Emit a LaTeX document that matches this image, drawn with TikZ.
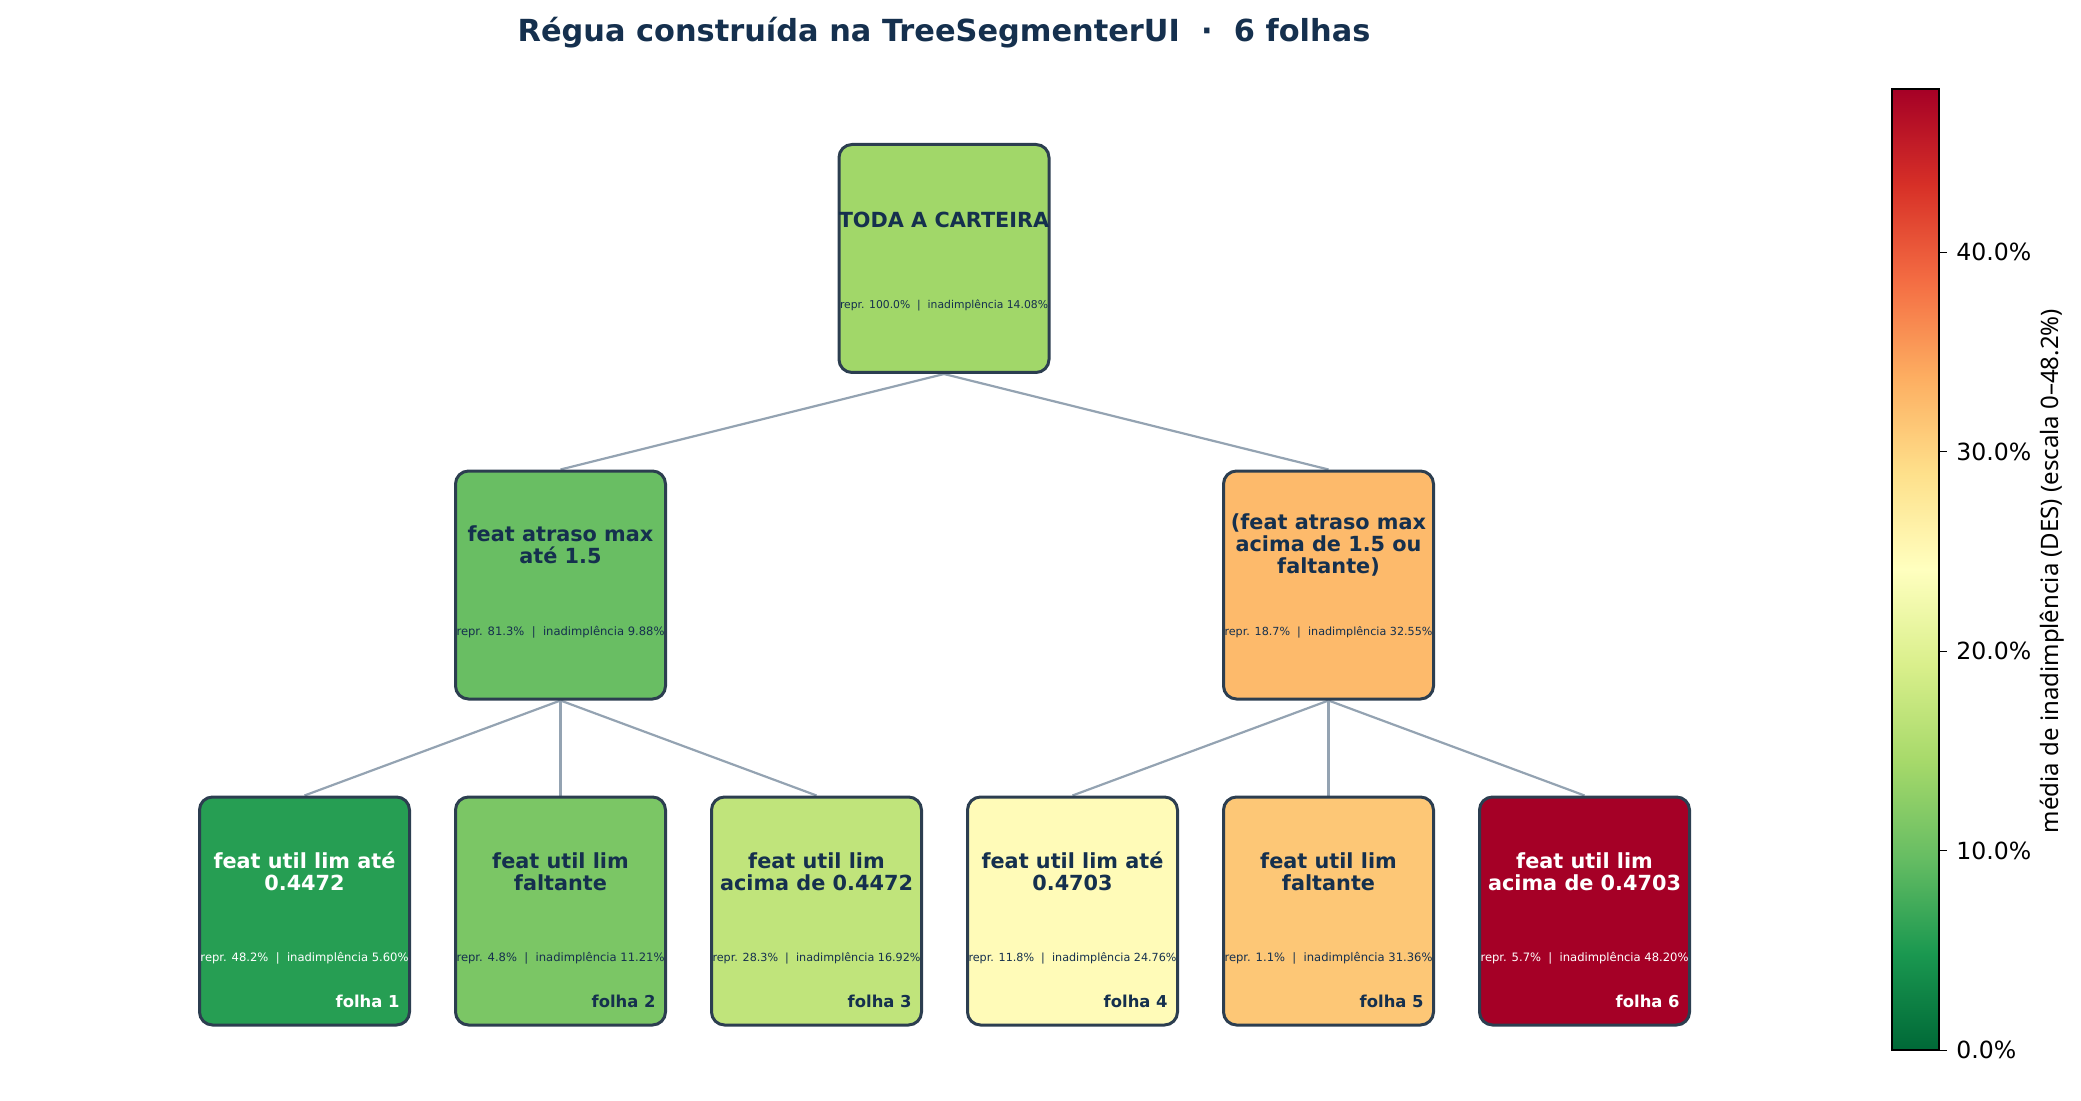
\documentclass[tikz,border=0pt]{standalone}
\usepackage{fontspec}
\usetikzlibrary{backgrounds}
\setmainfont{DejaVu Sans}
\newfontfamily\labfont{Noto Sans}
\definecolor{navy}{HTML}{15304E}
\definecolor{boxline}{HTML}{2C3E50}
\definecolor{edgec}{HTML}{94A3B2}
\definecolor{cRoot}{HTML}{A1D769}
\definecolor{cML}{HTML}{69BE63}
\definecolor{cMR}{HTML}{FDBA6B}
\definecolor{cL1}{HTML}{269E53}
\definecolor{cL2}{HTML}{7BC665}
\definecolor{cL3}{HTML}{C0E47B}
\definecolor{cL4}{HTML}{FFFBB8}
\definecolor{cL5}{HTML}{FDC776}
\definecolor{cL6}{HTML}{A50026}
\definecolor{s0}{HTML}{006837}
\definecolor{s1}{HTML}{1A9850}
\definecolor{s2}{HTML}{66BD63}
\definecolor{s3}{HTML}{A6D96A}
\definecolor{s4}{HTML}{D9EF8B}
\definecolor{s5}{HTML}{FFFFBF}
\definecolor{s6}{HTML}{FEE08B}
\definecolor{s7}{HTML}{FDAE61}
\definecolor{s8}{HTML}{F46D43}
\definecolor{s9}{HTML}{D73027}
\definecolor{s10}{HTML}{A50026}
\pgfdeclareverticalshading{rdylgn}{100bp}{color(0bp)=(s0); color(25bp)=(s0); color(30bp)=(s1); color(35bp)=(s2); color(40bp)=(s3); color(45bp)=(s4); color(50bp)=(s5); color(55bp)=(s6); color(60bp)=(s7); color(65bp)=(s8); color(70bp)=(s9); color(75bp)=(s10); color(100bp)=(s10)}
\newcommand{\fitstat}[1]{\resizebox{104pt}{!}{\fontsize{5.4}{6}\selectfont #1}}
\tikzset{
  tbox/.style={draw=boxline, line width=1.5pt, rounded corners=6.5pt, minimum width=105pt, minimum height=114pt, inner sep=0pt},
  ttl/.style={font=\fontsize{10.4}{10.9}\selectfont\bfseries, align=center, inner sep=0pt, text=navy},
  stt/.style={inner sep=0pt, text=navy},
  fol/.style={font=\fontsize{8.2}{9}\selectfont\bfseries, inner sep=0pt, anchor=east, text=navy},
  edge/.style={draw=edgec, line width=1.1pt},
  tick/.style={draw=black, line width=0.5pt},
  ticklab/.style={font=\fontsize{11.8}{12}\selectfont, anchor=west, inner sep=0pt}
}
\begin{document}
\begin{tikzpicture}[x=0.5pt,y=-0.5pt]
\useasboundingbox (0,0) rectangle (2081,1101);
% title
\node[font=\fontsize{15.2}{16}\selectfont\bfseries, text=navy, inner sep=0pt] (title) at (944,33) {Régua construída na TreeSegmenterUI\ \ ·\ \ 6 folhas};
% boxes
\node[tbox, fill=cRoot] (root) at (944,258.5) {};
\node[tbox, fill=cML] (ml) at (560.5,585) {};
\node[tbox, fill=cMR] (mr) at (1328.5,585) {};
\node[tbox, fill=cL1] (l1) at (304.5,911) {};
\node[tbox, fill=cL2] (l2) at (560.5,911) {};
\node[tbox, fill=cL3] (l3) at (816.5,911) {};
\node[tbox, fill=cL4] (l4) at (1072.5,911) {};
\node[tbox, fill=cL5] (l5) at (1328.5,911) {};
\node[tbox, fill=cL6] (l6) at (1584.5,911) {};
% root texts
\node[ttl] (rootT) at (944,220) {TODA A CARTEIRA};
\node[stt] (rootS) at (944,305) {\fitstat{repr. 100.0\%\ \ |\ \ inadimplência 14.08\%}};
% mid texts
\node[ttl] (mlT) at (560.5,545) {feat atraso max\\até 1.5};
\node[stt] (mlS) at (560.5,632) {\fitstat{repr. 81.3\%\ \ |\ \ inadimplência 9.88\%}};
\node[ttl] (mrT) at (1328.5,545) {(feat atraso max\\acima de 1.5 ou\\faltante)};
\node[stt] (mrS) at (1328.5,632) {\fitstat{repr. 18.7\%\ \ |\ \ inadimplência 32.55\%}};
% leaves
\node[ttl, text=white] (l1T) at (304.5,871.5) {feat util lim até\\0.4472};
\node[stt, text=white] (l1S) at (304.5,958) {\fitstat{repr. 48.2\%\ \ |\ \ inadimplência 5.60\%}};
\node[fol, text=white] (l1F) at (400,1001) {folha 1};
\node[ttl] (l2T) at (560.5,871.5) {feat util lim\\faltante};
\node[stt] (l2S) at (560.5,958) {\fitstat{repr. 4.8\%\ \ |\ \ inadimplência 11.21\%}};
\node[fol] (l2F) at (656,1001) {folha 2};
\node[ttl] (l3T) at (816.5,871.5) {feat util lim\\acima de 0.4472};
\node[stt] (l3S) at (816.5,958) {\fitstat{repr. 28.3\%\ \ |\ \ inadimplência 16.92\%}};
\node[fol] (l3F) at (912,1001) {folha 3};
\node[ttl] (l4T) at (1072.5,871.5) {feat util lim até\\0.4703};
\node[stt] (l4S) at (1072.5,958) {\fitstat{repr. 11.8\%\ \ |\ \ inadimplência 24.76\%}};
\node[fol] (l4F) at (1168,1001) {folha 4};
\node[ttl] (l5T) at (1328.5,871.5) {feat util lim\\faltante};
\node[stt] (l5S) at (1328.5,958) {\fitstat{repr. 1.1\%\ \ |\ \ inadimplência 31.36\%}};
\node[fol] (l5F) at (1424,1001) {folha 5};
\node[ttl, text=white] (l6T) at (1584.5,871.5) {feat util lim\\acima de 0.4703};
\node[stt, text=white] (l6S) at (1584.5,958) {\fitstat{repr. 5.7\%\ \ |\ \ inadimplência 48.20\%}};
\node[fol, text=white] (l6F) at (1680,1001) {folha 6};
% connectors, behind the boxes
\begin{scope}[on background layer]
\draw[edge] (root.south) -- (ml.north);
\draw[edge] (root.south) -- (mr.north);
\draw[edge] (ml.south) -- (l1.north);
\draw[edge] (ml.south) -- (l2.north);
\draw[edge] (ml.south) -- (l3.north);
\draw[edge] (mr.south) -- (l4.north);
\draw[edge] (mr.south) -- (l5.north);
\draw[edge] (mr.south) -- (l6.north);
\end{scope}
% colorbar
\shade[shading=rdylgn] (1892,89) rectangle (1939,1050);
\draw[black, line width=0.8pt] (1892,89) rectangle (1939,1050);
\foreach \v/\y in {0/1050, 10/850.6, 20/651.2, 30/451.8, 40/252.4} {
  \draw[tick] (1939,\y) -- (1947,\y);
  \node[ticklab] (tk\v) at (1956,\y) {\v.0\%};
}
\node[font=\labfont\fontsize{12}{13}\selectfont, rotate=90, inner sep=0pt] (cblabel) at (2052,571) {média de inadimplência (DES) (escala 0–48.2\%)};
\end{tikzpicture}
\end{document}
